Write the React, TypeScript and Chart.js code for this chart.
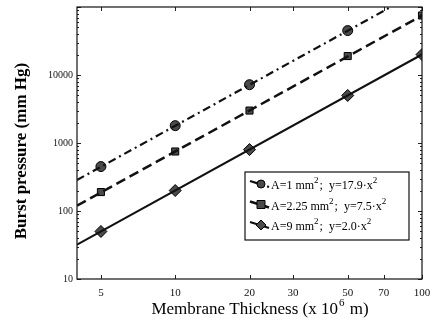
import React, { useEffect, useRef } from 'react';
import { Chart, registerables } from 'chart.js';
Chart.register(...registerables);

const thickness = [5, 10, 20, 50, 100];
const burstA1 = [450, 1800, 7200, 45000, 179000];
const burstA225 = [190, 750, 3000, 19000, 75000];
const burstA9 = [50, 200, 800, 5000, 20000];
const fitX = [4, 100];
const fitA1 = [286, 179000];
const fitA225 = [120, 75000];
const fitA9 = [32, 20000];
const xTicks = [5, 10, 20, 30, 50, 70, 100];
const yTicks = [10, 100, 1000, 10000];
const legendArea = ['1', '2.25', '9'];
const legendCoef = ['17.9', '7.5', '2.0'];
const xTitle = 'Membrane Thickness (x 10';
const xTitleSup = '6';
const xTitleEnd = ' m)';
const yTitle = 'Burst pressure (mm Hg)';

const FONT = '"Liberation Serif", "DejaVu Serif", serif';
const MARK_FILL = '#4a4a4a';

const pts = (xs: number[], ys: number[]) => xs.map((x, i) => ({ x, y: ys[i] }));

const styles = [
  { dash: [8, 4, 2, 4], width: 2.2, point: 'circle', radius: 5 },
  { dash: [10, 5], width: 2.5, point: 'rect', radius: 5 },
  { dash: [], width: 2.2, point: 'rectRot', radius: 6 },
];

const tickPlugin = {
  id: 'inwardTicks',
  afterDatasetsDraw(chart: any) {
    const { ctx, chartArea: a, scales } = chart;
    const xs = scales.x, ys = scales.y;
    ctx.save();
    ctx.strokeStyle = '#222';
    ctx.lineWidth = 1;
    ctx.beginPath();
    for (const v of xTicks) {
      const px = Math.round(xs.getPixelForValue(v)) + 0.5;
      ctx.moveTo(px, a.bottom); ctx.lineTo(px, a.bottom - 4);
      ctx.moveTo(px, a.top); ctx.lineTo(px, a.top + 4);
    }
    for (let d = 10; d <= 100000; d *= 10) {
      for (let m = 1; m <= 9; m++) {
        const v = d * m;
        if (v > 100000) break;
        const py = Math.round(ys.getPixelForValue(v)) + 0.5;
        const len = m === 1 ? 4 : 2;
        ctx.moveTo(a.left, py); ctx.lineTo(a.left + len, py);
        ctx.moveTo(a.right, py); ctx.lineTo(a.right - len, py);
      }
    }
    ctx.stroke();
    ctx.lineWidth = 1.2;
    ctx.strokeStyle = '#111';
    ctx.strokeRect(a.left, a.top, a.right - a.left, a.bottom - a.top);

    ctx.fillStyle = '#000';
    ctx.textBaseline = 'alphabetic';
    ctx.font = '17px ' + FONT;
    const w1 = ctx.measureText(xTitle).width;
    const w3 = ctx.measureText(xTitleEnd).width;
    ctx.font = '11px ' + FONT;
    const w2 = ctx.measureText(xTitleSup).width + 2;
    let tx = 260 - (w1 + w2 + w3) / 2;
    const ty = 314;
    ctx.font = '17px ' + FONT;
    ctx.fillText(xTitle, tx, ty);
    tx += w1 + 1;
    ctx.font = '11px ' + FONT;
    ctx.fillText(xTitleSup, tx, ty - 8);
    tx += w2 - 1;
    ctx.font = '17px ' + FONT;
    ctx.fillText(xTitleEnd, tx, ty);

    ctx.translate(22, 151);
    ctx.rotate(-Math.PI / 2);
    ctx.font = 'bold 17px ' + FONT;
    ctx.textAlign = 'center';
    ctx.textBaseline = 'middle';
    ctx.fillText(yTitle, 0, 0);
    ctx.restore();
  },
};

const legendPlugin = {
  id: 'boxLegend',
  afterDraw(chart: any) {
    const { ctx, chartArea: a } = chart;
    const bx = a.left + 168, by = a.top + 165, bw = 164, bh = 68;
    ctx.save();
    ctx.fillStyle = '#fff';
    ctx.fillRect(bx, by, bw, bh);
    ctx.strokeStyle = '#111';
    ctx.lineWidth = 1.2;
    ctx.strokeRect(bx, by, bw, bh);
    for (let i = 0; i < 3; i++) {
      const cy = by + 13 + i * 20.5;
      const st = styles[i];
      ctx.strokeStyle = '#111';
      ctx.lineWidth = st.width;
      ctx.setLineDash(st.dash);
      ctx.beginPath();
      ctx.moveTo(bx + 5, cy - 4); ctx.lineTo(bx + 24, cy + 2);
      ctx.stroke();
      ctx.setLineDash([]);
      ctx.lineWidth = 1;
      ctx.fillStyle = MARK_FILL;
      ctx.strokeStyle = '#000';
      const mx = bx + 16, my = cy - 1;
      ctx.beginPath();
      if (st.point === 'circle') ctx.arc(mx, my, 4, 0, Math.PI * 2);
      else if (st.point === 'rect') ctx.rect(mx - 4, my - 4, 8, 8);
      else { ctx.moveTo(mx, my - 5); ctx.lineTo(mx + 5, my); ctx.lineTo(mx, my + 5); ctx.lineTo(mx - 5, my); ctx.closePath(); }
      ctx.fill(); ctx.stroke();
      ctx.fillStyle = '#000';
      ctx.textBaseline = 'alphabetic';
      let tx = bx + 26;
      const base = cy + 4;
      const parts: [string, boolean][] = [
        ['A=' + legendArea[i] + ' mm', false], ['2', true],
        [';  y=' + legendCoef[i] + '\u00b7x', false], ['2', true],
      ];
      for (const [t, sup] of parts) {
        ctx.font = (sup ? '9px ' : '12px ') + FONT;
        ctx.fillText(t, tx, sup ? base - 6 : base);
        tx += ctx.measureText(t).width + (sup ? 1 : 0);
      }
    }
    ctx.restore();
  },
};

export default function App() {
  const ref = useRef<HTMLCanvasElement>(null);
  useEffect(() => {
    document.body.style.margin = '0';
    const fits = [fitA1, fitA225, fitA9];
    const marks = [burstA1, burstA225, burstA9];
    const datasets: any[] = [];
    for (let i = 0; i < 3; i++) {
      datasets.push({
        data: pts(fitX, fits[i]),
        borderColor: '#111',
        borderWidth: styles[i].width,
        borderDash: styles[i].dash,
        pointRadius: 0,
        showLine: true,
        fill: false,
      });
      datasets.push({
        data: pts(thickness, marks[i]),
        showLine: false,
        pointStyle: styles[i].point,
        pointRadius: styles[i].radius,
        pointBackgroundColor: MARK_FILL,
        pointBorderColor: '#000',
        pointBorderWidth: 1,
      });
    }
    const chart = new Chart(ref.current!, {
      type: 'scatter',
      data: { datasets },
      options: {
        animation: false,
        responsive: false,
        layout: { padding: { top: 7, right: 10, left: 0, bottom: 0 } },
        plugins: { legend: { display: false }, tooltip: { enabled: false } },
        scales: {
          x: {
            type: 'logarithmic',
            min: 4,
            max: 100,
            afterBuildTicks: (s: any) => { s.ticks = xTicks.map((v) => ({ value: v })); },
            afterFit: (s: any) => { s.height = 50; s.paddingLeft = 0; s.paddingRight = 0; },
            grid: { display: false, drawTicks: false },
            border: { display: false },
            ticks: {
              autoSkip: false,
              maxRotation: 0,
              color: '#111',
              font: { family: FONT, size: 11 },
              padding: 8,
              callback: (v: any) => String(v),
            },
            title: { display: false },
          },
          y: {
            type: 'logarithmic',
            min: 10,
            max: 100000,
            afterBuildTicks: (s: any) => { s.ticks = yTicks.map((v) => ({ value: v })); },
            afterFit: (s: any) => { s.width = 77; s.paddingTop = 0; s.paddingBottom = 0; },
            grid: { display: false, drawTicks: false },
            border: { display: false },
            ticks: {
              autoSkip: false,
              color: '#111',
              font: { family: FONT, size: 10 },
              padding: 4,
              callback: (v: any) => String(v),
            },
            title: { display: false },
          },
        },
      },
      plugins: [tickPlugin, legendPlugin],
    } as any);
    return () => chart.destroy();
  }, []);
  return (
    <div style={{ position: 'absolute', left: 0, top: 0, width: 432, height: 329, background: '#fff' }}>
      <canvas ref={ref} width={432} height={329} style={{ width: 432, height: 329, display: 'block' }} />
    </div>
  );
}
